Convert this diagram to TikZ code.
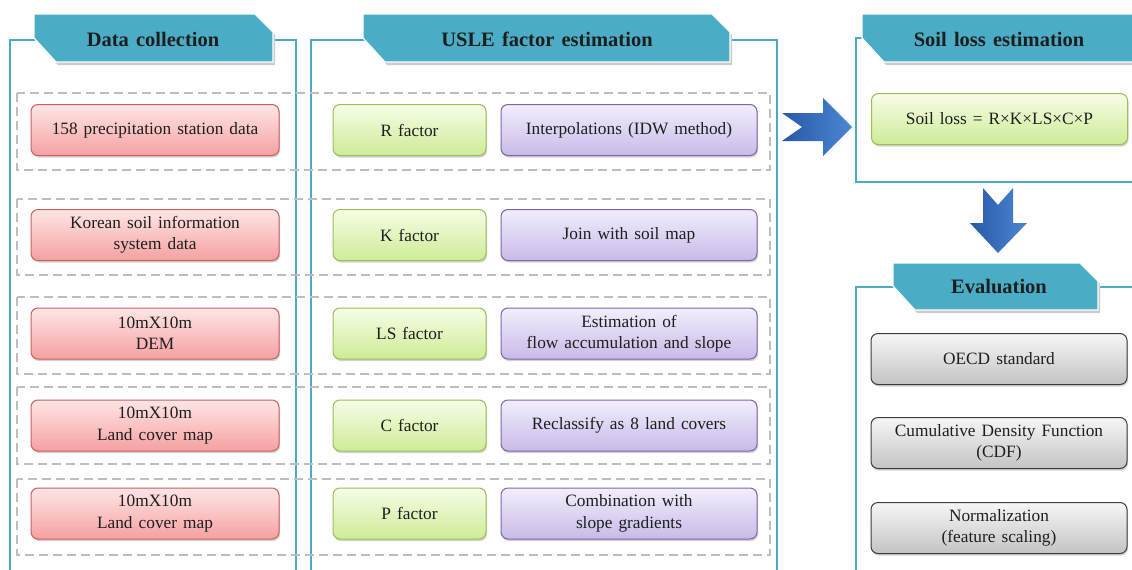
\documentclass[tikz,border=0pt]{standalone}
\usepackage{fontspec}
\setmainfont{Liberation Serif}[WordSpace={1.4,1,1}]
\usetikzlibrary{shadows}
\definecolor{tabc}{RGB}{75,172,198}
\definecolor{dashg}{RGB}{190,190,190}
\definecolor{txt}{RGB}{30,30,30}
\definecolor{redt}{RGB}{255,230,230}
\definecolor{redm}{RGB}{245,160,160}
\definecolor{redd}{RGB}{205,95,95}
\definecolor{grnt}{RGB}{247,253,230}
\definecolor{grnm}{RGB}{205,236,150}
\definecolor{grnd}{RGB}{155,190,90}
\definecolor{purt}{RGB}{243,238,252}
\definecolor{purm}{RGB}{200,186,232}
\definecolor{purd}{RGB}{128,100,170}
\definecolor{gryt}{RGB}{247,247,247}
\definecolor{grym}{RGB}{195,195,195}
\definecolor{gryd}{RGB}{60,60,60}
\definecolor{arl}{RGB}{40,88,165}
\definecolor{arr}{RGB}{75,135,212}
\newcommand\tabshape[4]{%
  \fill[black!20] ({#1+2},{#2+3}) -- ({#3-18+2},{#2+3}) -- ({#3+2},{#2+18+3}) -- ({#3+2},{#4+3}) -- ({#1+22+2},{#4+3}) -- ({#1+2},{#4-24+3}) -- cycle;
  \filldraw[fill=tabc,draw=white,line width=1.2pt] (#1,#2) -- ({#3-18},#2) -- (#3,{#2+18}) -- (#3,#4) -- ({#1+22},#4) -- (#1,{#4-24}) -- cycle;}
\begin{document}
\begin{tikzpicture}[x=1pt,y=-1pt,
  panel/.style={draw=tabc,line width=1.8pt},
  rowbox/.style={draw=dashg,line width=2.4pt,dash pattern=on 9pt off 5pt},
  title/.style={font=\fontsize{20.5}{24}\selectfont\bfseries,text=txt,inner sep=0pt},
  box/.style={rounded corners=7pt,line width=1pt,align=center,inner sep=0pt,
    font=\fontsize{17.3}{21.5}\selectfont,text=txt,
    drop shadow={opacity=0.35,shadow xshift=1pt,shadow yshift=-2pt}},
  redbox/.style={box,draw=redd,top color=redt,bottom color=redm,minimum width=248pt,minimum height=51pt},
  grnbox/.style={box,draw=grnd,top color=grnt,bottom color=grnm,minimum width=153pt,minimum height=51pt},
  purbox/.style={box,draw=purd,top color=purt,bottom color=purm,minimum width=256pt,minimum height=51pt},
  grybox/.style={box,draw=gryd,top color=gryt,bottom color=grym,minimum width=256pt,minimum height=51pt},
  bigarrow/.style={left color=arl,right color=arr}
]
\useasboundingbox (0,0) rectangle (1132,570);
\fill[white] (0,0) rectangle (1132,570);
% panels
\draw[panel] (10,575) -- (10,40) -- (296,40) -- (296,575);
\draw[panel] (311,575) -- (311,40) -- (777,40) -- (777,575);
\draw[panel] (1140,38) -- (856,38) -- (856,182) -- (1140,182);
\draw[panel] (856,575) -- (856,287) -- (1140,287);
% tabs
\tabshape{34}{14}{273}{62}
\tabshape{363}{14}{730}{62}
\tabshape{862}{14}{1160}{62}
\tabshape{893}{263}{1098}{310}
\node[title] (t1) at (153,39) {Data collection};
\node[title] (t2) at (547,39) {USLE factor estimation};
\node[title] (t3) at (999,39) {Soil loss estimation};
\node[title] (t4) at (999,287) {Evaluation};
% dashed rows
\draw[rowbox] (17,93) rectangle (770,170);
\draw[rowbox] (17,199) rectangle (770,275);
\draw[rowbox] (17,297) rectangle (770,374);
\draw[rowbox] (17,387) rectangle (770,464);
\draw[rowbox] (17,479) rectangle (770,555);
% data boxes
\node[redbox] (d1) at (155,130) {158 precipitation station data};
\node[redbox] (d2) at (155,235) {Korean soil information\\system data};
\node[redbox] (d3) at (155,333.5) {10mX10m\\DEM};
\node[redbox] (d4) at (155,425.5) {10mX10m\\Land cover map};
\node[redbox] (d5) at (155,513.5) {10mX10m\\Land cover map};
% factor boxes
\node[grnbox] (f1) at (409.5,130) {R factor};
\node[grnbox] (f2) at (409.5,235) {K factor};
\node[grnbox] (f3) at (409.5,333.5) {LS factor};
\node[grnbox] (f4) at (409.5,425.5) {C factor};
\node[grnbox] (f5) at (409.5,513.5) {P factor};
% method boxes
\node[purbox] (m1) at (629,130) {Interpolations (IDW method)};
\node[purbox] (m2) at (629,235) {Join with soil map};
\node[purbox] (m3) at (629,333.5) {Estimation of\\flow accumulation and slope};
\node[purbox] (m4) at (629,425.5) {Reclassify as 8 land covers};
\node[purbox] (m5) at (629,513.5) {Combination with\\slope gradients};
% soil loss
\node[grnbox,minimum width=256pt] (sl) at (999.5,119) {Soil loss = R×K×LS×C×P};
% evaluation
\node[grybox] (e1) at (999,359) {OECD standard};
\node[grybox] (e2) at (999,443) {Cumulative Density Function\\(CDF)};
\node[grybox] (e3) at (999,528) {Normalization\\(feature scaling)};
% block arrows
\shade[bigarrow] (782,113) -- (823,113) -- (823,98) -- (852,127) -- (823,156) -- (823,141) -- (782,141) -- (802,127) -- cycle;
\shade[bigarrow] (983,188) -- (998,205) -- (1013,188) -- (1013,223) -- (1027,223) -- (998,253) -- (970,223) -- (983,223) -- cycle;
\end{tikzpicture}
\end{document}
